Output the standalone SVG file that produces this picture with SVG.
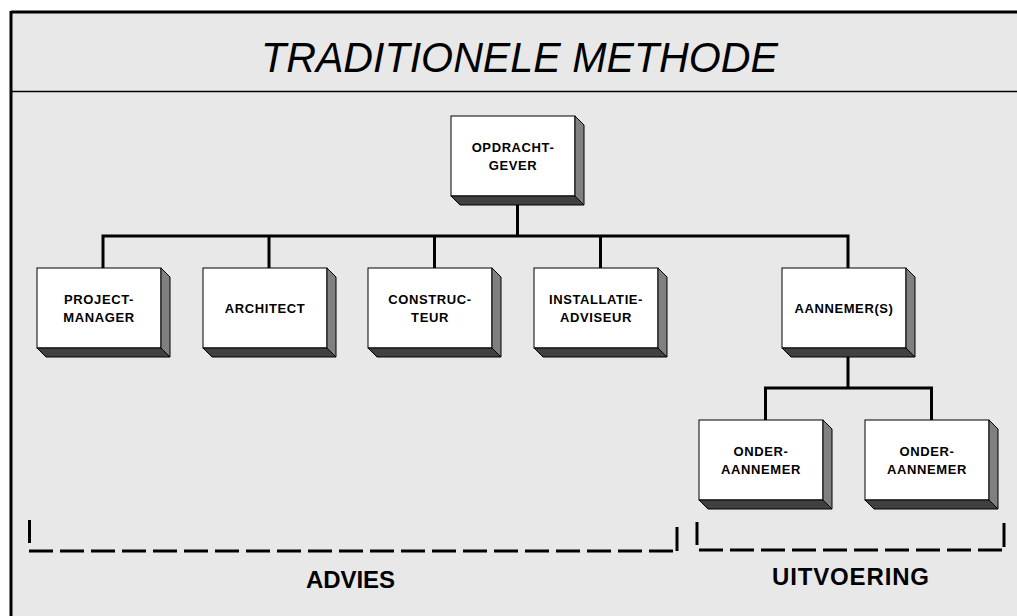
<svg xmlns="http://www.w3.org/2000/svg" width="1017" height="616" viewBox="0 0 1017 616">
<style>
.front{fill:#fff;stroke:#000;stroke-width:1}
.side{fill:#808080;stroke:#000;stroke-width:1;stroke-linejoin:round}
.bottom{fill:#404040;stroke:#000;stroke-width:1;stroke-linejoin:round}
.lbl{font-family:"Liberation Sans",Arial,sans-serif;font-weight:bold;font-size:13px;letter-spacing:0.6px;text-anchor:middle;fill:#000}
.conn{stroke:#000;stroke-width:3;fill:none;stroke-linecap:square}
.br{stroke:#000;stroke-width:3;fill:none}
.dash{stroke:#000;stroke-width:3;fill:none;stroke-dasharray:24 7}
.big{font-family:"Liberation Sans",Arial,sans-serif;font-weight:bold;font-size:24px;text-anchor:middle;fill:#000}
</style>
<defs>
<g id="box">
<rect class="front" x="0" y="0" width="124" height="80"/>
<polygon class="side" points="124,0 133,9 133,89 124,80"/>
<polygon class="bottom" points="0,80 124,80 133,89 9,89"/>
</g>
</defs>
<rect x="0" y="0" width="1017" height="616" fill="#fff"/>
<rect x="10" y="12" width="1007" height="604" fill="#e8e8e8"/>
<line x1="11" y1="12" x2="1017" y2="12" stroke="#000" stroke-width="3"/>
<line x1="11" y1="11" x2="11" y2="616" stroke="#000" stroke-width="3"/>
<line x1="12" y1="91.5" x2="1017" y2="91.5" stroke="#000" stroke-width="1.5"/>
<text x="519.5" y="72" font-family="Liberation Sans, Arial, sans-serif" font-style="italic" font-size="42" text-anchor="middle" textLength="517" lengthAdjust="spacingAndGlyphs">TRADITIONELE METHODE</text>

<g id="connectors">
<path class="conn" d="M517.5,205 V236 M103,236 H848 M103,236 V268 M269,236 V268 M434.5,236 V268 M600.5,236 V268 M848,236 V268"/>
<path class="conn" d="M848,357 V388 M765.5,388 H931.5 M765.5,388 V420 M931.5,388 V420"/>
</g>

<g id="opdrachtgever" transform="translate(451,116)"><use href="#box"/><text class="lbl" x="62" y="36">OPDRACHT-</text><text class="lbl" x="62" y="54">GEVER</text></g>
<g id="projectmanager" transform="translate(37,268)"><use href="#box"/><text class="lbl" x="62" y="36">PROJECT-</text><text class="lbl" x="62" y="54">MANAGER</text></g>
<g id="architect" transform="translate(203,268)"><use href="#box"/><text class="lbl" x="62" y="45">ARCHITECT</text></g>
<g id="constructeur" transform="translate(368,268)"><use href="#box"/><text class="lbl" x="62" y="36">CONSTRUC-</text><text class="lbl" x="62" y="54">TEUR</text></g>
<g id="installatieadviseur" transform="translate(534,268)"><use href="#box"/><text class="lbl" x="62" y="36">INSTALLATIE-</text><text class="lbl" x="62" y="54">ADVISEUR</text></g>
<g id="aannemers" transform="translate(782,268)"><use href="#box"/><text class="lbl" x="62" y="45">AANNEMER(S)</text></g>
<g id="onderaannemer1" transform="translate(699,420)"><use href="#box"/><text class="lbl" x="62" y="36">ONDER-</text><text class="lbl" x="62" y="54">AANNEMER</text></g>
<g id="onderaannemer2" transform="translate(865,420)"><use href="#box"/><text class="lbl" x="62" y="36">ONDER-</text><text class="lbl" x="62" y="54">AANNEMER</text></g>

<g id="advies">
<line class="br" x1="29.5" y1="520" x2="29.5" y2="543"/>
<line class="dash" x1="29" y1="551" x2="673" y2="551"/>
<line class="br" x1="677" y1="527" x2="677" y2="551"/>
<text class="big" x="350.5" y="588" textLength="89">ADVIES</text>
</g>
<g id="uitvoering">
<line class="br" x1="697" y1="522" x2="697" y2="545"/>
<line class="dash" x1="699" y1="550" x2="1002" y2="550"/>
<line class="br" x1="1004" y1="523" x2="1004" y2="547"/>
<text class="big" x="850.5" y="585" textLength="157">UITVOERING</text>
</g>
</svg>
